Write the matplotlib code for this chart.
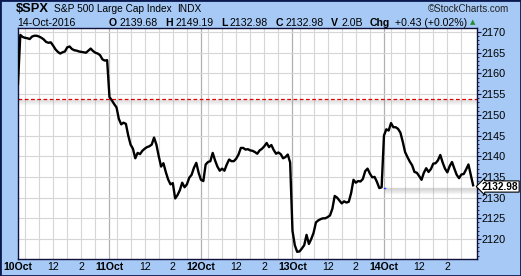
import numpy as np
import matplotlib
matplotlib.use("Agg")
import matplotlib.pyplot as plt
from matplotlib.patches import Rectangle
from matplotlib.transforms import blended_transform_factory

plt.rcParams["font.family"] = ["Liberation Sans", "DejaVu Sans"]

# 10-minute closes, 9:30 -> 16:00, one list per session
days = ["10Oct", "11Oct", "12Oct", "13Oct", "14Oct"]
oct10 = [2157.5, 2169.3, 2168.8, 2168.6, 2168.5, 2168.3, 2168.9, 2169.1, 2169.1, 2168.9,
         2168.6, 2168.2, 2167.6, 2167.4, 2167.5, 2166.7, 2165.8, 2165.2, 2164.8, 2165.1,
         2165.3, 2166.3, 2166.5, 2165.9, 2165.6, 2165.5, 2165.3, 2165.2, 2165.1, 2165.0,
         2165.5, 2166.0, 2165.4, 2165.0, 2164.8, 2164.4, 2163.4, 2163.1, 2163.2]
oct11 = [2154.3, 2153.5, 2152.6, 2151.8, 2149.0, 2147.7, 2148.1, 2147.8, 2145.0, 2142.8,
         2141.8, 2139.5, 2140.8, 2140.5, 2141.3, 2141.8, 2142.2, 2142.4, 2142.8, 2144.5,
         2142.8, 2140.0, 2137.5, 2138.3, 2136.2, 2134.4, 2133.2, 2133.5, 2129.8, 2130.6,
         2131.8, 2133.6, 2132.5, 2133.2, 2134.8, 2135.5, 2137.2, 2138.4, 2136.0]
oct12 = [2134.3, 2134.0, 2138.0, 2138.6, 2138.8, 2140.8, 2139.0, 2137.5, 2136.5, 2137.0,
         2136.5, 2138.0, 2139.2, 2138.8, 2138.8, 2139.4, 2140.4, 2142.0, 2142.0, 2141.6,
         2141.7, 2141.4, 2141.3, 2141.0, 2140.6, 2141.4, 2141.8, 2142.4, 2143.2, 2142.2,
         2142.7, 2141.5, 2140.6, 2140.9, 2140.5, 2139.5, 2139.8, 2140.4, 2138.5]
oct13 = [2122.0, 2118.5, 2116.9, 2117.0, 2117.7, 2118.5, 2121.0, 2118.8, 2120.0, 2121.5,
         2124.0, 2124.5, 2124.8, 2125.0, 2125.0, 2125.3, 2125.7, 2127.3, 2130.4, 2130.0,
         2129.3, 2128.6, 2129.1, 2128.8, 2129.0, 2131.1, 2134.3, 2133.6, 2134.0, 2133.9,
         2134.5, 2136.4, 2137.0, 2135.8, 2134.9, 2135.0, 2133.8, 2132.3, 2132.5]
oct14 = [2145.0, 2146.5, 2146.2, 2148.0, 2147.0, 2147.0, 2146.6, 2145.7, 2143.5, 2141.0,
         2139.8, 2138.7, 2137.8, 2136.2, 2136.0, 2135.2, 2134.3, 2136.0, 2137.1, 2136.2,
         2136.9, 2138.2, 2138.3, 2139.0, 2140.3, 2138.5, 2137.0, 2136.1, 2137.6, 2138.6,
         2137.0, 2135.5, 2134.7, 2135.6, 2135.7, 2136.8, 2138.0, 2135.5, 2132.98]
prev_close = 2153.74
last_close = 2132.98
yticks = [2120, 2125, 2130, 2135, 2140, 2145, 2150, 2155, 2160, 2165, 2170]

header_top = [("$SPX", 16, 9.3, "bold"), ("S&P 500 Large Cap Index", 54, 7.3, "normal"),
              ("INDX", 177, 7.3, "normal")]
header_row = [("14-Oct-2016", 17, "normal"),
              ("O", 109, "bold"), ("2139.68", 119, "normal"),
              ("H", 165, "bold"), ("2149.19", 175, "normal"),
              ("L", 221, "bold"), ("2132.98", 230, "normal"),
              ("C", 276, "bold"), ("2132.98", 286, "normal"),
              ("V", 331, "bold"), ("2.0B", 341, "normal"),
              ("Chg", 370, "bold"), ("+0.43 (+0.02%)", 395, "normal")]

W, H = 521, 276
bg = "#a6c9f5"
per_day = 39  # bars per session

spx = np.concatenate([oct10, oct11, oct12, oct13, oct14])
x = np.arange(len(spx))

fig = plt.figure(figsize=(W / 100, H / 100), dpi=100, facecolor=bg)
ax = fig.add_axes([17.5 / W, 1 - 259 / H, (477 - 17.5) / W, (259 - 28) / H])
ax.set_facecolor("white")

ax.set_xlim(-0.2, len(spx) + 0.65)
ax.set_ylim(2115.17, 2170.97)

# grid: hourly light lines, darker session boundaries
for d in range(len(days)):
    for h in [3, 9, 15, 21, 27, 33]:
        ax.axvline(d * per_day + h, color="#d6d6d6", lw=0.8, zorder=0)
    if d > 0:
        ax.axvline(d * per_day, color="#b0b0b0", lw=0.9, zorder=0)
for yv in yticks:
    ax.axhline(yv, color="#d6d6d6", lw=0.8, zorder=0)

# previous close reference with soft shadow
for k in range(1, 6):
    ax.axhline(prev_close - k * 0.24, color="#9a9a9a", lw=1.0, alpha=0.28 - k * 0.045, zorder=1)
ax.axhline(prev_close, color="#e00000", lw=0.9, ls=(0, (3, 2)), zorder=2)

# last close band on the final session
x0 = (len(days) - 1) * per_day
for k in range(0, 6):
    ax.hlines(last_close - 0.6 - k * 0.24, x0, len(spx) + 1, color="#9a9a9a", lw=1.0,
              alpha=0.35 - k * 0.055, zorder=1)
ax.plot([x0, x0 + 0.6], [last_close - 0.6] * 2, color="#2040ff", lw=1.0, zorder=2)

ax.plot(x, spx, color="black", lw=1.7, solid_joinstyle="round", zorder=3)

# axes styling
for s in ax.spines.values():
    s.set_color("#10103a")
    s.set_linewidth(1.0)
ax.yaxis.tick_right()
ax.set_yticks(yticks)
ax.set_yticklabels([str(v) for v in yticks])
ax.set_yticks(np.arange(2116, 2171, 1), minor=True)
ax.tick_params(axis="y", which="major", length=3, width=0.8, pad=0.5, labelsize=7.8,
               color="#10103a")
ax.tick_params(axis="y", which="minor", length=1.5, width=0.6, color="#10103a")

xt, xl = [], []
for d, name in enumerate(days):
    xt += [d * per_day, d * per_day + 15, d * per_day + 27]
    xl += [name, "12", "2"]
ax.set_xticks(xt)
ax.set_xticklabels(xl)
ax.tick_params(axis="x", length=0, pad=2.5, labelsize=7.6)
for lab in ax.get_xticklabels():
    if "Oct" in lab.get_text():
        lab.set_fontweight("bold")

# closing value marker
tr = blended_transform_factory(ax.transAxes, ax.transData)
ax.text(1.011, last_close - 0.3, "2132.98", transform=tr, ha="left", va="center",
        fontsize=7.3, fontweight="bold", zorder=5, clip_on=False,
        bbox=dict(boxstyle="larrow,pad=0.06", fc="white", ec="black", lw=0.8))

# header text
for txt, xp, fs, fw in header_top:
    fig.text(xp / W, 1 - 9.5 / H, txt, ha="left", va="center", fontsize=fs, fontweight=fw)
fig.text(428 / W, 1 - 9 / H, "©StockCharts.com", ha="left", va="center", fontsize=7.0,
         color="#202020")
for txt, xp, fw in header_row:
    fig.text(xp / W, 1 - 23 / H, txt, ha="left", va="center", fontsize=7.6, fontweight=fw)
fig.text(470 / W, 1 - 22.5 / H, "▲", ha="left", va="center", fontsize=5,
         color="#1f8f2f", family=["DejaVu Sans"])

fig.patches.append(Rectangle((0, 0), 1, 1, transform=fig.transFigure, fill=False,
                             ec="#0a1a50", lw=2.0))

fig.savefig("out.png", dpi=100, facecolor=bg)
